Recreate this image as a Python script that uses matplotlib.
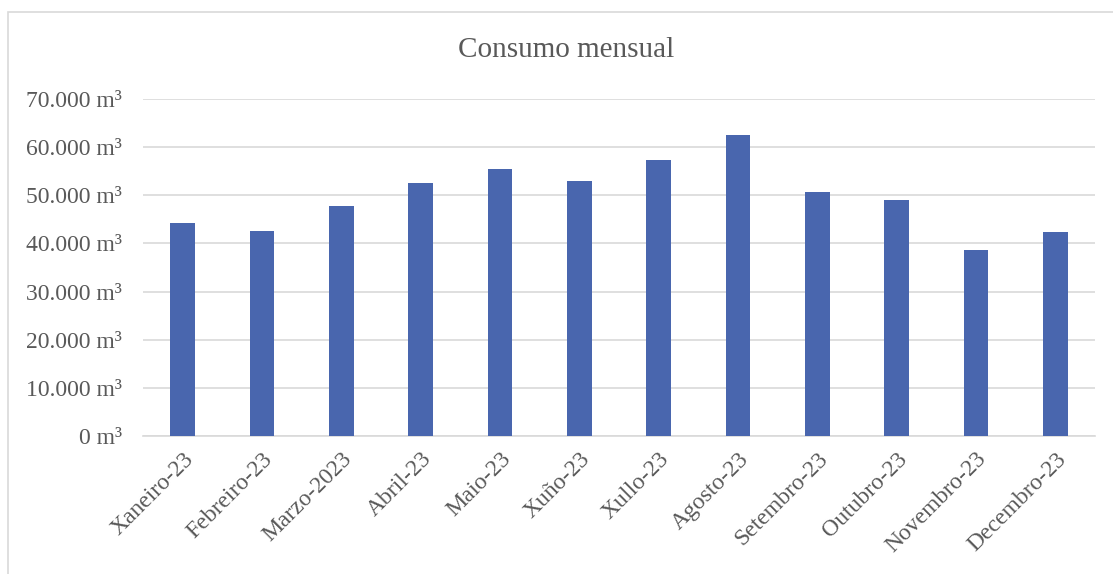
import matplotlib.pyplot as plt
from matplotlib.patches import Rectangle
from matplotlib.ticker import FuncFormatter

# datos
meses = ['Xaneiro-23', 'Febreiro-23', 'Marzo-2023', 'Abril-23', 'Maio-23', 'Xuño-23',
         'Xullo-23', 'Agosto-23', 'Setembro-23', 'Outubro-23', 'Novembro-23', 'Decembro-23']
consumo = [44300, 42600, 47800, 52600, 55500, 53000,
           57300, 62600, 50600, 49100, 38600, 42300]

plt.rcParams['font.family'] = ['Liberation Serif', 'DejaVu Serif']
gris = '#595959'

fig = plt.figure(figsize=(11.13, 5.74), dpi=100)
ax = fig.add_axes([143 / 1113, 1 - 436 / 574, (1095 - 143) / 1113, (436 - 99) / 574])

# marco del gráfico
fig.patches.append(Rectangle((8 / 1113, -0.05), 1.2, 1 - 12 / 574 + 0.05,
                             transform=fig.transFigure, fill=False,
                             edgecolor='#d9d9d9', linewidth=1.2))

x = range(len(meses))
ax.bar(x, consumo, width=0.31, color='#4966AE', zorder=3)

ax.set_xlim(-0.5, len(meses) - 0.5)
ax.set_ylim(0, 70000)
ax.set_yticks(range(0, 70001, 10000))
ax.yaxis.set_major_formatter(FuncFormatter(lambda v, p: f'{int(v):,} m³'.replace(',', '.')))
ax.grid(axis='y', color='#d9d9d9', linewidth=1.2, zorder=0)

for s in ['top', 'right', 'left']:
    ax.spines[s].set_visible(False)
ax.spines['bottom'].set_color('#d9d9d9')
ax.spines['bottom'].set_linewidth(1.2)

ax.set_xticks(list(x))
ax.set_xticklabels(meses, rotation=45, ha='right', rotation_mode='anchor')
ax.tick_params(axis='both', length=0, labelsize=17, colors=gris)
ax.tick_params(axis='y', pad=15)
ax.tick_params(axis='x', pad=9)

fig.text(566 / 1113, 1 - 50 / 574, 'Consumo mensual', ha='center', va='center',
         fontsize=21, color=gris)

fig.savefig('out.png', dpi=100)
